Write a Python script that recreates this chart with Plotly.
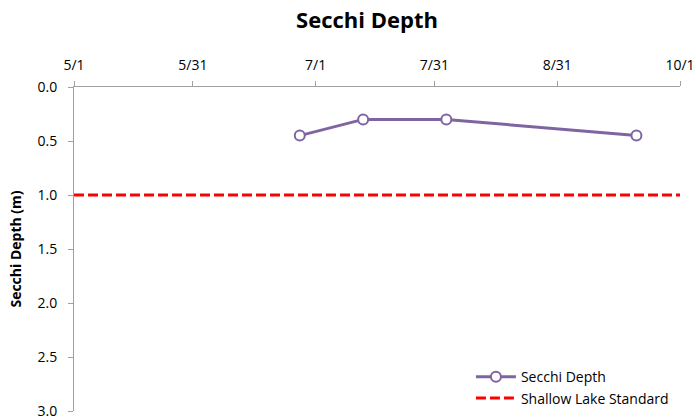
import plotly.graph_objects as go

sample_dates = ["2015-06-27", "2015-07-13", "2015-08-03", "2015-09-20"]
secchi_depth = [0.45, 0.30, 0.30, 0.45]
standard_dates = ["2015-05-01", "2015-10-01"]
standard_depth = [1.0, 1.0]
tick_dates = ["2015-05-01", "2015-05-31", "2015-07-01", "2015-07-31", "2015-08-31", "2015-10-01"]
tick_labels = ["5/1", "5/31", "7/1", "7/31", "8/31", "10/1"]

FONT = "Open Sans"
fig = go.Figure()
fig.add_trace(go.Scatter(
    x=sample_dates, y=secchi_depth, name="Secchi Depth", mode="lines+markers",
    line=dict(color="#8064A2", width=3),
    marker=dict(symbol="circle", size=10, color="white", line=dict(color="#8064A2", width=2)),
))
fig.add_trace(go.Scatter(
    x=standard_dates, y=standard_depth, name="Shallow Lake Standard", mode="lines",
    line=dict(color="#FF0000", width=3, dash="10px,4px"),
))
fig.update_layout(
    width=696, height=419,
    margin=dict(l=74, r=16, t=87, b=8, autoexpand=False),
    paper_bgcolor="white", plot_bgcolor="white",
    font=dict(family=FONT, size=13, color="black"),
    title=dict(text="<b>Secchi Depth</b>", x=367/696, xanchor="center", y=1-20/419, yanchor="middle",
               font=dict(size=22, family=FONT)),
    showlegend=True,
    legend=dict(x=0.655, xanchor="left", y=-0.01, yanchor="bottom", bgcolor="rgba(0,0,0,0)",
                font=dict(size=14, family=FONT), tracegroupgap=0, itemwidth=40),
    xaxis=dict(side="top", type="date", range=["2015-05-01", "2015-10-01"],
               tickvals=tick_dates, ticktext=tick_labels, showgrid=False,
               showline=True, linecolor="#A0A0A0", linewidth=1,
               ticks="outside", ticklen=5, tickcolor="#A0A0A0", zeroline=False,
               tickfont=dict(size=14), ticklabelstandoff=5, ticklabeloverflow="allow"),
    yaxis=dict(range=[3.0, 0.0], tickvals=[0, 0.5, 1, 1.5, 2, 2.5, 3], tickformat=".1f",
               showgrid=False, showline=True, linecolor="#A0A0A0", linewidth=1,
               ticks="outside", ticklen=5, tickcolor="#A0A0A0", zeroline=False,
               tickfont=dict(size=14), ticklabelstandoff=8, ticklabeloverflow="allow",
               title=dict(text="<b>Secchi Depth (m)</b>", font=dict(size=14), standoff=12)),
)
fig.write_html("out.html", config={"displayModeBar": False},
               post_script="document.body.style.margin='0';")
